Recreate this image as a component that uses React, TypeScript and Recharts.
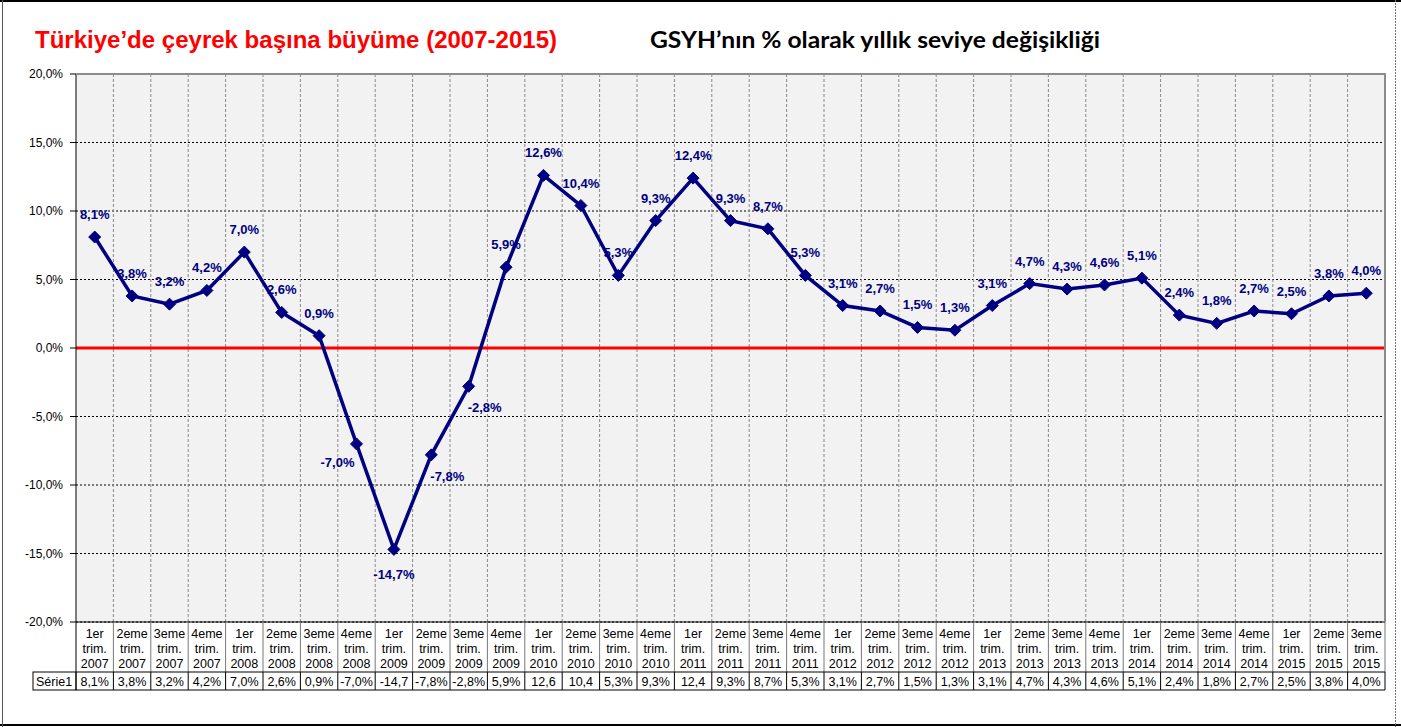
import React from "react";
import {
  CartesianGrid,
  LabelList,
  Line,
  LineChart,
  ReferenceLine,
  XAxis,
  YAxis,
} from "recharts";

const categories = [
  "1er trim. 2007", "2eme trim. 2007", "3eme trim. 2007", "4eme trim. 2007",
  "1er trim. 2008", "2eme trim. 2008", "3eme trim. 2008", "4eme trim. 2008",
  "1er trim. 2009", "2eme trim. 2009", "3eme trim. 2009", "4eme trim. 2009",
  "1er trim. 2010", "2eme trim. 2010", "3eme trim. 2010", "4eme trim. 2010",
  "1er trim. 2011", "2eme trim. 2011", "3eme trim. 2011", "4eme trim. 2011",
  "1er trim. 2012", "2eme trim. 2012", "3eme trim. 2012", "4eme trim. 2012",
  "1er trim. 2013", "2eme trim. 2013", "3eme trim. 2013", "4eme trim. 2013",
  "1er trim. 2014", "2eme trim. 2014", "3eme trim. 2014", "4eme trim. 2014",
  "1er trim. 2015", "2eme trim. 2015", "3eme trim. 2015",
];

const growth = [
  8.1, 3.8, 3.2, 4.2,
  7.0, 2.6, 0.9, -7.0,
  -14.7, -7.8, -2.8, 5.9,
  12.6, 10.4, 5.3, 9.3,
  12.4, 9.3, 8.7, 5.3,
  3.1, 2.7, 1.5, 1.3,
  3.1, 4.7, 4.3, 4.6,
  5.1, 2.4, 1.8, 2.7,
  2.5, 3.8, 4.0,
];

const yTicks = [-20, -15, -10, -5, 0, 5, 10, 15, 20];

const seriesName = "Série1";
const title = "Türkiye’de çeyrek başına büyüme (2007-2015)";
const subtitle = "GSYH’nın % olarak yıllık seviye değişikliği";

const data = categories.map((name, i) => ({ name, value: growth[i] }));

const W = 1401;
const H = 727;
const M = { top: 74, right: 16, bottom: 37, left: 20 };
const Y_AXIS_W = 56;
const PLOT_LEFT = M.left + Y_AXIS_W;
const PLOT_W = W - M.right - PLOT_LEFT;
const PLOT_H = H - M.top - M.bottom - 68;
const CELL = PLOT_W / categories.length;

const NAVY = "#000080";
const FONT = "'Liberation Sans', Arial, sans-serif";

const pct = (v: number) => v.toFixed(1).replace(".", ",") + "%";
// Excel cuts the % off when the cell is too narrow
const tableText = (v: number) => (Math.abs(v) >= 10 ? v.toFixed(1).replace(".", ",") : pct(v));

function Diamond(props: any) {
  const { cx, cy } = props;
  if (cx == null || cy == null) return null;
  const r = 6;
  return (
    <polygon
      points={`${cx},${cy - r} ${cx + r},${cy} ${cx},${cy + r} ${cx - r},${cy}`}
      fill={NAVY}
      stroke={NAVY}
    />
  );
}

function PointLabel(props: any) {
  const { x, y, value, index } = props;
  if (x == null || y == null) return null;
  let dx = 0;
  let dy = -18;
  if (value < 0) {
    const prev = index > 0 ? growth[index - 1] : value;
    const next = index < growth.length - 1 ? growth[index + 1] : value;
    if (value < prev && value < next) {
      dx = 0;
      dy = 30;
    } else if (prev > value) {
      dx = -19;
      dy = 23;
    } else {
      dx = 16;
      dy = 26;
    }
  }
  return (
    <text
      x={x + dx}
      y={y + dy}
      textAnchor="middle"
      fontFamily={FONT}
      fontSize={13}
      fontWeight="bold"
      fill={NAVY}
    >
      {pct(value)}
    </text>
  );
}

function TableTick(props: any) {
  const { x, y, payload, index } = props;
  const parts = String(payload.value).split(" ");
  const v = growth[index];
  const left = x - CELL / 2;
  const right = x + CELL / 2;
  const rowTop = y + 50;
  const rowBottom = y + 68;
  return (
    <g fontFamily={FONT} fontSize={12.5}>
      {parts.map((p, k) => (
        <text key={k} x={x} y={y + 16 + k * 15} textAnchor="middle" fill="#000">
          {p}
        </text>
      ))}
      <text x={x} y={rowTop + 14} textAnchor="middle" fill="#000">
        {tableText(v)}
      </text>
      <line x1={right} y1={y} x2={right} y2={rowTop} stroke="#777" />
      <line x1={right} y1={rowTop} x2={right} y2={rowBottom} stroke="#000" />
      <line x1={left} y1={rowTop} x2={right} y2={rowTop} stroke="#000" />
      <line x1={left} y1={rowBottom} x2={right} y2={rowBottom} stroke="#000" />
      {index === 0 && (
        <g>
          <line x1={left} y1={y} x2={left} y2={rowBottom} stroke="#000" />
          <rect x={left - 43} y={rowTop} width={43} height={18} fill="none" stroke="#000" />
          <text x={left - 40} y={rowTop + 14} fill="#000">
            {seriesName}
          </text>
        </g>
      )}
    </g>
  );
}

export default function App() {
  const verticalLines = ({ offset }: any) => {
    const l = offset ? offset.left : PLOT_LEFT;
    const w = offset ? offset.width : PLOT_W;
    const out: number[] = [];
    for (let i = 1; i < categories.length; i++) out.push(l + (i * w) / categories.length);
    return out;
  };

  return (
    <div style={{ position: "absolute", left: 0, top: 0, width: W, height: H, background: "#fff" }}>
      <div
        style={{
          position: "absolute",
          left: PLOT_LEFT,
          top: M.top,
          width: PLOT_W,
          height: PLOT_H,
          background: "#f2f2f2",
        }}
      />
      <div style={{ position: "absolute", left: 0, top: 0 }}>
        <LineChart width={W} height={H} data={data} margin={M}>
          <CartesianGrid vertical={false} stroke="#000" strokeDasharray="2 2" />
          <CartesianGrid
            horizontal={false}
            stroke="#888"
            strokeDasharray="3 2"
            verticalCoordinatesGenerator={verticalLines}
          />
          <XAxis
            dataKey="name"
            scale="band"
            interval={0}
            height={68}
            tickSize={0}
            tickMargin={0}
            axisLine={{ stroke: "#000" }}
            tick={(p: any) => <TableTick {...p} />}
          />
          <YAxis
            width={Y_AXIS_W}
            domain={[-20, 20]}
            ticks={yTicks}
            tickFormatter={pct}
            tickSize={6}
            tickMargin={7}
            axisLine={{ stroke: "#000" }}
            tickLine={{ stroke: "#000" }}
            tick={{ fontFamily: FONT, fontSize: 12, fill: "#000" }}
          />
          <ReferenceLine y={0} stroke="#ff0000" strokeWidth={3} />
          <Line
            type="linear"
            dataKey="value"
            stroke={NAVY}
            strokeWidth={3.5}
            dot={<Diamond />}
            activeDot={false}
            isAnimationActive={false}
          >
            <LabelList dataKey="value" content={<PointLabel />} />
          </Line>
        </LineChart>
      </div>
      <svg
        width={W}
        height={H}
        style={{ position: "absolute", left: 0, top: 0, pointerEvents: "none" }}
      >
        <polyline
          points={`${PLOT_LEFT},${M.top} ${PLOT_LEFT + PLOT_W},${M.top} ${PLOT_LEFT + PLOT_W},${M.top + PLOT_H}`}
          fill="none"
          stroke="#8c8c8c"
          strokeWidth={2}
        />
        <text
          x={35}
          y={48}
          fill="#ff0000"
          fontFamily="'Liberation Sans Narrow', 'Liberation Sans', Arial, sans-serif"
          fontWeight="bold"
          fontSize={23}
          textLength={522}
          lengthAdjust="spacingAndGlyphs"
        >
          {title}
        </text>
        <text
          x={650}
          y={48}
          fill="#000"
          fontFamily="Lato, 'Open Sans', sans-serif"
          fontWeight="bold"
          fontSize={22}
          textLength={450}
          lengthAdjust="spacingAndGlyphs"
        >
          {subtitle}
        </text>
        <line x1={0} y1={1} x2={W} y2={1} stroke="#000" strokeWidth={2} />
        <line x1={0} y1={H - 2} x2={W} y2={H - 2} stroke="#000" strokeWidth={2} />
        <line x1={2.5} y1={0} x2={2.5} y2={H} stroke="#555" />
        <line x1={1395.5} y1={0} x2={1395.5} y2={H} stroke="#777" strokeDasharray="2 1" />
      </svg>
    </div>
  );
}
